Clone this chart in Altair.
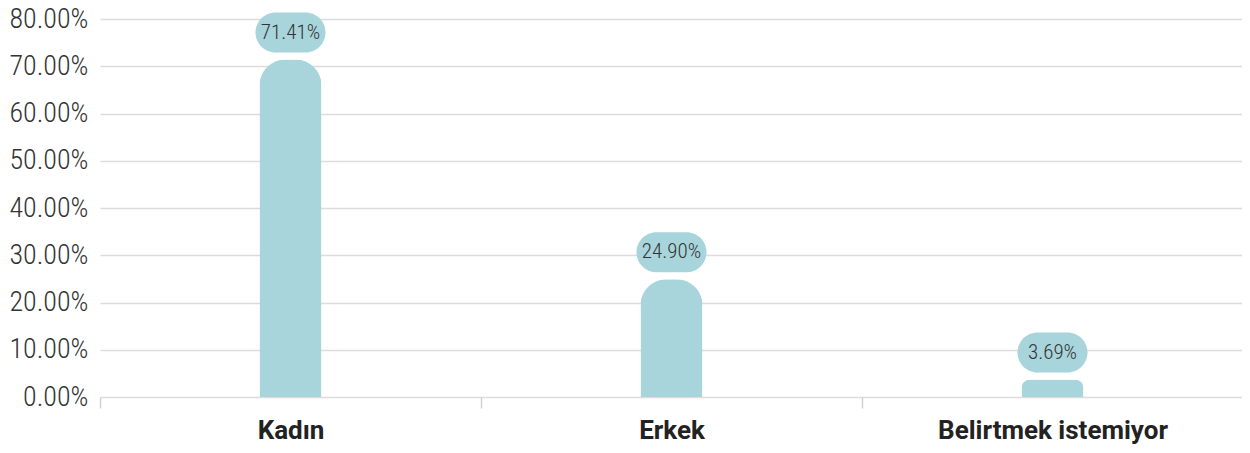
import altair as alt
import pandas as pd

categories = ["Kadın", "Erkek", "Belirtmek istemiyor"]
values = [0.7141, 0.2490, 0.0369]
labels = ["71.41%", "24.90%", "3.69%"]

df = pd.DataFrame({"cat": categories, "val": values, "lab": labels})

BAR = "#a8d5dc"
FONT = "'Roboto Condensed', 'DejaVu Sans Condensed', Roboto, sans-serif"

x = alt.X("cat:N", sort=None, title=None,
          scale=alt.Scale(range=[0, 1143], paddingInner=0, paddingOuter=0),
          axis=alt.Axis(labelAngle=0, domain=False, ticks=True, tickBand="extent",
                        tickColor="#d0d0d0", tickSize=11, tickWidth=1.5,
                        labelFont="Roboto", labelFontSize=26, labelFontWeight="bold",
                        labelColor="#222222", labelPadding=9, labelLimit=500, grid=False))
y = alt.Y("val:Q", title=None,
          scale=alt.Scale(domain=[0, 0.8], nice=False),
          axis=alt.Axis(format=".2%", values=[0, 0.1, 0.2, 0.3, 0.4, 0.5, 0.6, 0.7, 0.8],
                        domain=False, ticks=False, grid=True, gridColor="#dcdcdc",
                        gridWidth=1.5, labelFont=FONT, labelFontSize=28,
                        labelFontWeight=300,
                        labelColor="#333333", labelPadding=12))

base = alt.Chart(df)

bars = base.mark_bar(size=62, color=BAR, cornerRadiusTopLeft=26,
                     cornerRadiusTopRight=26).encode(x=x, y=y)

badges = base.mark_rect(width=70, height=40, cornerRadius=20, color=BAR,
                        yOffset=-27).encode(x=alt.X("cat:N", sort=None), y=alt.Y("val:Q"))

texts = base.mark_text(font=FONT, fontSize=21, fontWeight=300, color="#333333", dy=-27,
                       baseline="middle", align="center").encode(
    x=alt.X("cat:N", sort=None), y=alt.Y("val:Q"), text="lab:N")

chart = alt.layer(bars, badges, texts).properties(
    width=1117, height=378,
    padding={"left": 92, "top": 11, "right": 25, "bottom": 48},
    autosize=alt.AutoSizeParams(type="none"),
).configure_view(stroke=None)

chart.save("out.html", embed_options={"renderer": "svg", "actions": False})
